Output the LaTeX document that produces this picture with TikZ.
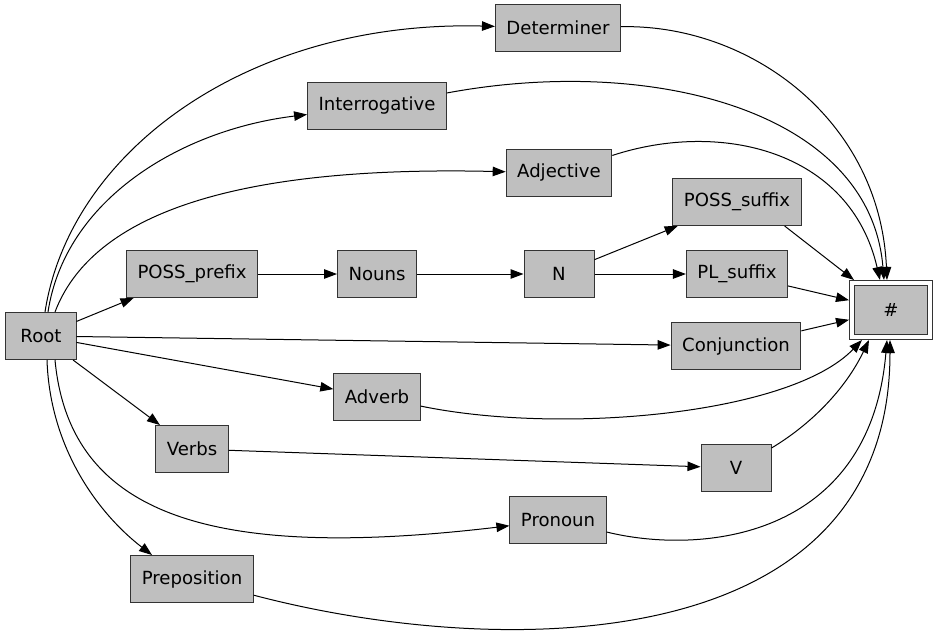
\documentclass[tikz,border=0pt]{standalone}
\usepackage{fontspec}
\setmainfont{DejaVu Sans}
\usetikzlibrary{arrows.meta,calc}
\tikzset{
  state/.style={draw=black!80,fill=black!25,line width=.2mm,minimum width=14mm,
    minimum height=9.4mm,inner xsep=2.2mm,inner ysep=0pt},
  final/.style={state,double=white,double distance=.8mm,minimum width=15.6mm,
    minimum height=10.8mm,outer sep=.6mm},
  edge/.style={->,line width=.2mm}
}
\begin{document}
\begin{tikzpicture}[x=.2mm,y=-.2mm,>={Triangle[length=2.6mm,width=1.9mm]},
    font=\fontsize{10.3}{12.4}\selectfont]
  \useasboundingbox (0,0) rectangle (939,631);
  % states of the morphology automaton
  \node[state] (root) at (41,336) {Root};
  \node[state] (possprefix) at (192,274) {POSS\_prefix};
  \node[state] (nouns) at (377,274) {Nouns};
  \node[state] (n) at (559,274) {N};
  \node[state] (posssuffix) at (737,202) {POSS\_suffix};
  \node[state] (plsuffix) at (737,274) {PL\_suffix};
  \node[state] (determiner) at (558,28) {Determiner};
  \node[state] (interrogative) at (377,106) {Interrogative};
  \node[state] (adjective) at (559,173) {Adjective};
  \node[state] (conjunction) at (736,346) {Conjunction};
  \node[state] (adverb) at (377,397) {Adverb};
  \node[state] (verbs) at (192,449) {Verbs};
  \node[state] (v) at (736,468) {V};
  \node[state] (pronoun) at (558,520) {Pronoun};
  \node[state] (preposition) at (192,579) {Preposition};
  \node[final] (hash) at (891,310) {\#};
  % edges out of the root
  \draw[edge] ($(root.north)+(4,0)$) .. controls (70,150) and (250,20) .. (determiner);
  \draw[edge] ($(root.north)+(7,0)$) .. controls (65,200) and (180,130) .. (interrogative);
  \draw[edge] ($(root.north)+(14,0)$) .. controls (90,220) and (220,165) .. (adjective);
  \draw[edge] (root) -- (possprefix);
  \draw[edge] (root) -- (conjunction);
  \draw[edge] (root) -- (adverb);
  \draw[edge] (root) -- (verbs);
  \draw[edge] ($(root.south)+(14,0)$) .. controls (70,520) and (220,560) .. (pronoun);
  \draw[edge] ($(root.south)+(6,0)$) .. controls (50,450) and (100,515) ..
    ($(preposition.north)+(-40,0)$);
  % the noun chain
  \draw[edge] (possprefix) -- (nouns);
  \draw[edge] (nouns) -- (n);
  \draw[edge] (n) -- (posssuffix);
  \draw[edge] (n) -- (plsuffix);
  \draw[edge] (verbs) -- (v);
  % everything ends in the final state
  \draw[edge] (determiner) .. controls (750,24) and (880,120) .. ($(hash.north)+(-4,0)$);
  \draw[edge] (interrogative) .. controls (650,55) and (870,110) .. ($(hash.north)+(-7,0)$);
  \draw[edge] (adjective) .. controls (720,120) and (850,150) .. ($(hash.north)+(-11,0)$);
  \draw[edge] ($(posssuffix.south east)+(-17,0)$) -- ($(hash.north west)+(5,0)$);
  \draw[edge] (plsuffix) -- (hash);
  \draw[edge] (conjunction) -- (hash);
  \draw[edge] (adverb) .. controls (560,435) and (790,415) .. ($(hash.south west)+(13,0)$);
  \draw[edge] ($(v.north east)+(0,4)$) .. controls (810,425) and (845,390) ..
    ($(hash.south west)+(20,0)$);
  \draw[edge] ($(pronoun.east)+(0,12)$) .. controls (700,555) and (870,540) ..
    ($(hash.south)+(-4,0)$);
  \draw[edge] (preposition) .. controls (500,660) and (890,660) .. ($(hash.south)+(-1,0)$);
\end{tikzpicture}
\end{document}
